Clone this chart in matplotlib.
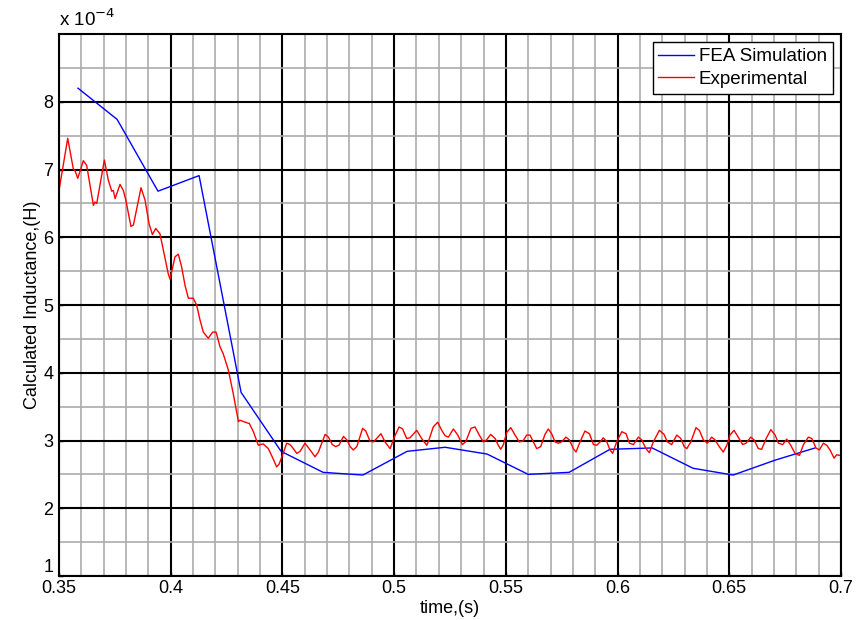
import matplotlib
matplotlib.use("Agg")
import matplotlib.pyplot as plt
from matplotlib.ticker import MultipleLocator

plt.rcParams['font.family'] = ['Liberation Sans', 'DejaVu Sans']

# FEA simulation (x in s, y in units of 1e-4 H)
fea_t = [0.3585, 0.3760, 0.3943, 0.4127, 0.4315, 0.4494, 0.4682, 0.4860, 0.5058,
         0.5228, 0.5416, 0.5600, 0.5783, 0.5966, 0.6155, 0.6338, 0.6517, 0.6705, 0.6884]
fea_L = [8.20, 7.74, 6.68, 6.91, 3.71, 2.84, 2.53, 2.49, 2.84,
         2.90, 2.80, 2.50, 2.53, 2.87, 2.89, 2.59, 2.49, 2.71, 2.89]

# Experimental (x in s, y in units of 1e-4 H)
exp_t = [0.3500, 0.3539, 0.3564, 0.3572, 0.3584, 0.3609, 0.3624, 0.3654, 0.3661, 0.3669,
         0.3703, 0.3721, 0.3736, 0.3743, 0.3751, 0.3773, 0.3788, 0.3799, 0.3822, 0.3833,
         0.3867, 0.3885, 0.3903, 0.3918, 0.3933, 0.3952,
         0.3989, 0.3997, 0.4019, 0.4034, 0.4049, 0.4064, 0.4079, 0.4101, 0.4116, 0.4131,
         0.4146, 0.4168, 0.4188, 0.4203, 0.4221, 0.4235, 0.4258, 0.4280, 0.4303, 0.4310,
         0.4325, 0.4352, 0.4370, 0.4392, 0.4414, 0.4437, 0.4457, 0.4474,
         0.4485, 0.4500, 0.4519, 0.4534, 0.4549, 0.4564, 0.4579, 0.4601, 0.4624, 0.4646,
         0.4661, 0.4691, 0.4706, 0.4723, 0.4738, 0.4753, 0.4773, 0.4788, 0.4803, 0.4817,
         0.4833, 0.4859, 0.4873, 0.4892, 0.4907, 0.4922, 0.4941, 0.4959, 0.4982, 0.5001,
         0.5022, 0.5038, 0.5056, 0.5071, 0.5101, 0.5123, 0.5146, 0.5156, 0.5175, 0.5195,
         0.5213, 0.5228, 0.5243, 0.5265, 0.5285, 0.5305, 0.5320, 0.5344,
         0.5362, 0.5381, 0.5399, 0.5414, 0.5432, 0.5452, 0.5466, 0.5477, 0.5489, 0.5504,
         0.5522, 0.5541, 0.5560, 0.5576, 0.5593, 0.5608, 0.5623, 0.5638, 0.5656, 0.5675,
         0.5690, 0.5705, 0.5720, 0.5735, 0.5750, 0.5769, 0.5784, 0.5802, 0.5814, 0.5832,
         0.5854, 0.5874, 0.5892, 0.5907, 0.5925, 0.5936, 0.5952, 0.5966, 0.5978, 0.5996,
         0.6019, 0.6038, 0.6053, 0.6071, 0.6093, 0.6108, 0.6127, 0.6142, 0.6160, 0.6187,
         0.6208, 0.6223, 0.6242, 0.6265, 0.6283, 0.6298, 0.6310, 0.6328, 0.6351, 0.6366,
         0.6384, 0.6402, 0.6421, 0.6436, 0.6455, 0.6473, 0.6489, 0.6503, 0.6521, 0.6540,
         0.6560, 0.6575, 0.6596, 0.6611, 0.6630, 0.6645, 0.6665, 0.6686, 0.6705, 0.6720,
         0.6739, 0.6757, 0.6775, 0.6794, 0.6814, 0.6832, 0.6854, 0.6869, 0.6888, 0.6903,
         0.6921, 0.6936, 0.6951, 0.6969, 0.6981, 0.6993, 0.7000]
exp_L = [6.69, 7.46, 7.01, 6.98, 6.87, 7.13, 7.06, 6.47, 6.52, 6.50,
         7.14, 6.84, 6.68, 6.69, 6.57, 6.78, 6.69, 6.55, 6.16, 6.18,
         6.73, 6.55, 6.20, 6.04, 6.13, 6.05,
         5.46, 5.38, 5.71, 5.75, 5.56, 5.29, 5.10, 5.10, 5.00, 4.78,
         4.60, 4.51, 4.60, 4.60, 4.38, 4.28, 4.04, 3.69, 3.28, 3.30,
         3.28, 3.25, 3.13, 2.93, 2.95, 2.88, 2.74, 2.61,
         2.65, 2.78, 2.96, 2.94, 2.88, 2.81, 2.84, 2.96, 2.86, 2.76,
         2.83, 3.09, 3.05, 2.94, 2.91, 2.93, 3.06, 3.01, 2.91, 2.86,
         2.91, 3.18, 3.14, 2.99, 2.98, 3.03, 3.10, 2.98, 2.88, 3.05,
         3.20, 3.17, 3.03, 3.04, 3.15, 3.03, 2.93, 3.01, 3.20, 3.27,
         3.15, 3.07, 3.05, 3.17, 3.08, 2.94, 2.98, 3.18,
         3.20, 3.08, 2.98, 3.01, 3.09, 3.03, 2.93, 2.87, 2.94, 3.12,
         3.19, 3.08, 2.98, 2.99, 3.08, 3.08, 2.98, 2.88, 2.91, 3.09,
         3.17, 3.10, 2.98, 2.96, 2.98, 3.05, 3.01, 2.88, 2.83, 2.98,
         3.14, 3.10, 2.94, 2.93, 2.99, 3.04, 2.98, 2.86, 2.81, 2.98,
         3.13, 3.10, 2.96, 2.94, 3.05, 3.01, 2.88, 2.82, 2.98, 3.15,
         3.09, 2.98, 2.94, 3.08, 3.03, 2.91, 2.88, 2.98, 3.19, 3.15,
         3.01, 2.96, 3.05, 3.01, 2.91, 2.83, 2.93, 3.08, 3.15, 3.05,
         2.94, 2.96, 3.05, 3.01, 2.88, 2.87, 3.03, 3.16, 3.08, 2.96,
         2.94, 3.02, 2.93, 2.81, 2.78, 2.94, 3.05, 3.03, 2.89, 2.86,
         2.96, 2.93, 2.86, 2.74, 2.79, 2.78, 2.78]

xticks = [0.35, 0.4, 0.45, 0.5, 0.55, 0.6, 0.65, 0.7]
xtick_labels = ['0.35', '0.4', '0.45', '0.5', '0.55', '0.6', '0.65', '0.7']
yticks = [1, 2, 3, 4, 5, 6, 7, 8]
ytick_labels = ['1', '2', '3', '4', '5', '6', '7', '8']

fig = plt.figure(figsize=(8.62, 6.2), dpi=100)
ax = fig.add_axes([59/862, 44/620, 782/862, 542/620])

ax.set_xlim(0.35, 0.7)
ax.set_ylim(1, 9)

ax.xaxis.set_minor_locator(MultipleLocator(0.01))
ax.yaxis.set_minor_locator(MultipleLocator(0.5))
ax.set_xticks(xticks)
ax.set_xticklabels(xtick_labels)
ax.set_yticks(yticks)
ax.set_yticklabels(ytick_labels)

ax.grid(which='minor', color='#ababab', linewidth=1.2, linestyle='-')
ax.grid(which='major', color='black', linewidth=1.5, linestyle='-')
ax.set_axisbelow(True)

ax.tick_params(which='both', direction='in', labelsize=13, length=3, width=1)
ax.tick_params(axis='y', pad=4)
ax.tick_params(axis='x', pad=3)
ax.tick_params(which='minor', length=0)
for s in ax.spines.values():
    s.set_linewidth(1.5)
    s.set_color('black')

ylabs = ax.get_yticklabels()
ylabs[0].set_verticalalignment('bottom')

ax.plot(fea_t, fea_L, color='#0000ff', linewidth=1.0, label='FEA Simulation')
ax.plot(exp_t, exp_L, color='#ff0000', linewidth=1.0, label='Experimental')

ax.set_xlabel('time,(s)', fontsize=13, labelpad=2)
ax.set_ylabel('Calculated Inductance,(H)', fontsize=13, labelpad=2)

ax.text(0.0, 1.008, r'x 10$^{-4}$', transform=ax.transAxes, fontsize=13.5,
        ha='left', va='bottom')

leg = ax.legend(loc='upper right', fontsize=13.5, frameon=True, fancybox=False,
                edgecolor='black', framealpha=1, borderaxespad=0.45,
                handlelength=1.9, handletextpad=0.25, borderpad=0.3, labelspacing=0.3)
leg.get_frame().set_linewidth(1.0)

fig.savefig('out.png', dpi=100)
